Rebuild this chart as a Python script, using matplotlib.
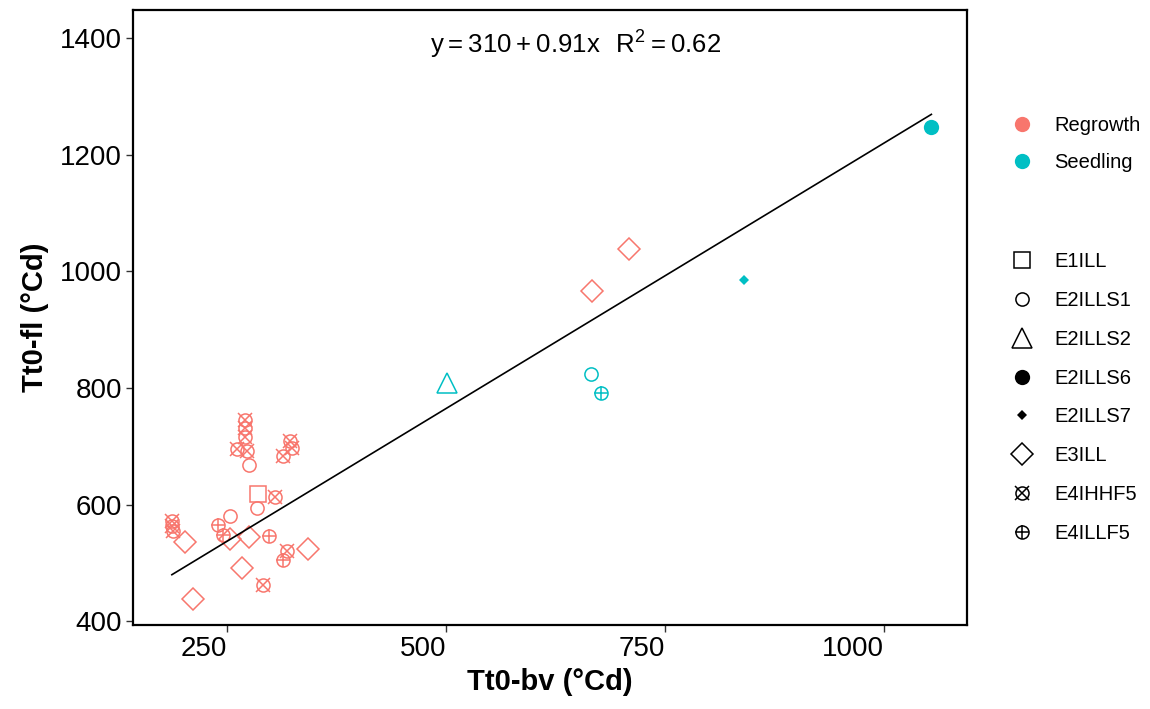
import matplotlib
matplotlib.use('Agg')
import matplotlib.pyplot as plt
from matplotlib.lines import Line2D
from matplotlib.legend_handler import HandlerTuple

plt.rcParams['font.family'] = ['Liberation Sans', 'DejaVu Sans']
plt.rcParams['mathtext.fontset'] = 'custom'
plt.rcParams['mathtext.rm'] = 'Liberation Sans'

# data
tt0_bv = [270, 270, 270, 261, 273, 275, 322, 324, 314, 285, 305, 284, 253,
          187, 187, 188, 202, 240, 245, 253, 275, 298, 318, 314, 342, 267,
          291, 211, 667, 709,
          501, 665, 677, 840, 1054]
tt0_fl = [746, 731, 716, 695, 693, 668, 710, 697, 683, 618, 614, 594, 580,
          573, 563, 555, 537, 565, 548, 542, 544, 546, 520, 506, 525, 491,
          463, 439, 966, 1038,
          808, 825, 791, 985, 1247]
origin = ['Regrowth'] * 30 + ['Seedling'] * 5
env = ['E4IHHF5', 'E4IHHF5', 'E4IHHF5', 'E4IHHF5', 'E4IHHF5', 'E2ILLS1',
       'E4IHHF5', 'E4IHHF5', 'E4IHHF5', 'E1ILL', 'E4IHHF5', 'E2ILLS1',
       'E2ILLS1', 'E4IHHF5', 'E4IHHF5', 'E4IHHF5', 'E3ILL', 'E4ILLF5',
       'E4ILLF5', 'E3ILL', 'E3ILL', 'E4ILLF5', 'E4IHHF5', 'E4ILLF5', 'E3ILL',
       'E3ILL', 'E4IHHF5', 'E3ILL', 'E3ILL', 'E3ILL',
       'E2ILLS2', 'E2ILLS1', 'E4ILLF5', 'E2ILLS7', 'E2ILLS6']

origins = ['Regrowth', 'Seedling']
envs = ['E1ILL', 'E2ILLS1', 'E2ILLS2', 'E2ILLS6', 'E2ILLS7', 'E3ILL',
        'E4IHHF5', 'E4ILLF5']
colors = {'Regrowth': '#F8766D', 'Seedling': '#00BFC4'}

intercept, slope = 310, 0.91


def marker_parts(name, color):
    hollow = dict(markerfacecolor='none', markeredgecolor=color, markeredgewidth=1.1)
    solid = dict(markerfacecolor=color, markeredgecolor=color, markeredgewidth=0)
    if name == 'E1ILL':
        return [dict(marker='s', markersize=11.5, **hollow)]
    if name == 'E2ILLS1':
        return [dict(marker='o', markersize=9.5, **hollow)]
    if name == 'E2ILLS2':
        return [dict(marker='^', markersize=15, **hollow)]
    if name == 'E2ILLS6':
        return [dict(marker='o', markersize=11, **solid)]
    if name == 'E2ILLS7':
        return [dict(marker='D', markersize=4.6, **solid)]
    if name == 'E3ILL':
        return [dict(marker='D', markersize=11.5, **hollow)]
    if name == 'E4IHHF5':
        return [dict(marker='o', markersize=9.4, **hollow),
                dict(marker='x', markersize=9.4, markeredgecolor=color, markeredgewidth=1.1)]
    return [dict(marker='o', markersize=9.4, **hollow),
            dict(marker='+', markersize=9.4, markeredgecolor=color, markeredgewidth=1.1)]


fig = plt.figure(figsize=(11.5, 7.09), dpi=100)
ax = fig.add_axes([0.1157, 0.1185, 0.7252, 0.8674])

for o in origins:
    for e in envs:
        xs = [x for x, oo, ee in zip(tt0_bv, origin, env) if oo == o and ee == e]
        ys = [y for y, oo, ee in zip(tt0_fl, origin, env) if oo == o and ee == e]
        if not xs:
            continue
        for kw in marker_parts(e, colors[o]):
            ax.plot(xs, ys, linestyle='none', **kw)

xmin, xmax = min(tt0_bv), max(tt0_bv)
ax.plot([xmin, xmax], [intercept + slope * xmin, intercept + slope * xmax],
        color='black', lw=1.2)

ax.text(648, 1388, r'$\mathregular{y = 310 + 0.91x\ \ R^2 = 0.62}$',
        ha='center', va='center', fontsize=18.5)

ax.set_xlim(142.7, 1094.7)
ax.set_ylim(394, 1448)
ax.set_xticks([250, 500, 750, 1000])
ax.set_yticks([400, 600, 800, 1000, 1200, 1400])
for lbl in ax.get_xticklabels():
    lbl.set_horizontalalignment('right')
ax.tick_params(direction='out', length=5, width=1, color='#333333',
               labelsize=20, labelcolor='black', pad=3)
for s in ax.spines.values():
    s.set_linewidth(1.6)
    s.set_color('black')

ax.set_xlabel('Tt0-bv (°Cd)', fontsize=21, fontweight='bold', labelpad=4)
ax.set_ylabel('Tt0-fl (°Cd)', fontsize=21, fontweight='bold', labelpad=8)

col_handles = [Line2D([], [], linestyle='none', marker='o', markersize=11,
                      markerfacecolor=colors[o], markeredgewidth=0) for o in origins]
fig.legend(col_handles, origins, loc='upper left',
           bbox_to_anchor=(0.880, 0.837), frameon=False, fontsize=14.5,
           borderpad=0, borderaxespad=0, handlelength=1.0,
           handletextpad=1.1, labelspacing=0.9)

shape_handles = [tuple(Line2D([], [], linestyle='none', **kw)
                       for kw in marker_parts(e, 'black')) for e in envs]
fig.legend(shape_handles, envs, loc='upper left',
           bbox_to_anchor=(0.880, 0.644), frameon=False, fontsize=14.5,
           borderpad=0, borderaxespad=0, handlelength=1.0,
           handletextpad=1.1, labelspacing=0.98,
           handler_map={tuple: HandlerTuple(ndivide=1, pad=0)})

fig.savefig('out.png', dpi=100)
